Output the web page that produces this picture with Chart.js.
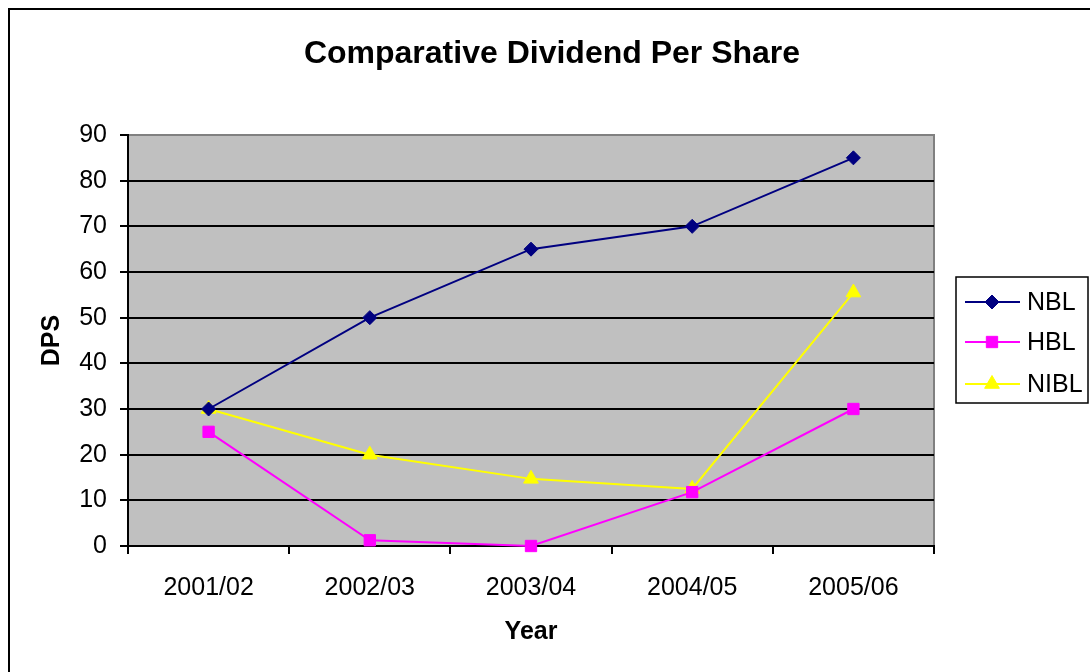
<!DOCTYPE html>
<html>
<head>
<meta charset="utf-8">
<script src="https://cdn.jsdelivr.net/npm/chart.js@4"></script>
<style>
html,body{margin:0;padding:0;background:#fff;}
canvas{display:block;}
</style>
</head>
<body>
<canvas id="c" width="1090" height="672"></canvas>
<script>
const categories = ['2001/02', '2002/03', '2003/04', '2004/05', '2005/06'];
const nbl = [30, 50, 65, 70, 85];
const hbl = [25, 1.25, 0, 11.8, 30];
const nibl = [30, 20, 14.7, 12.5, 55.5];
const seriesNames = ['NBL', 'HBL', 'NIBL'];
const yTicks = [0, 10, 20, 30, 40, 50, 60, 70, 80, 90];
const titleText = 'Comparative Dividend Per Share';
const xTitle = 'Year';
const yTitle = 'DPS';

const FONT = '"Liberation Sans", Arial, sans-serif';

function drawMarker(ctx, style, x, y, r, color) {
  ctx.save();
  ctx.fillStyle = color;
  ctx.strokeStyle = color;
  ctx.lineWidth = 1;
  ctx.beginPath();
  if (style === 'rectRot') {
    ctx.moveTo(x, y - r); ctx.lineTo(x + r, y); ctx.lineTo(x, y + r); ctx.lineTo(x - r, y);
  } else if (style === 'rect') {
    const s = Math.SQRT1_2 * r;
    ctx.rect(x - s, y - s, 2 * s, 2 * s);
  } else if (style === 'triangle') {
    ctx.moveTo(x, y - r);
    ctx.lineTo(x + r * Math.sqrt(3) / 2, y + r / 2);
    ctx.lineTo(x - r * Math.sqrt(3) / 2, y + r / 2);
  }
  ctx.closePath();
  ctx.fill();
  ctx.stroke();
  ctx.restore();
}

const decor = {
  id: 'decor',
  beforeDraw(chart) {
    const ctx = chart.ctx;
    const a = chart.chartArea;
    ctx.save();
    ctx.fillStyle = '#fff';
    ctx.fillRect(0, 0, chart.width, chart.height);
    ctx.strokeStyle = '#000';
    ctx.lineWidth = 2;
    ctx.strokeRect(9, 9, chart.width + 20, chart.height + 20);
    ctx.fillStyle = '#C0C0C0';
    ctx.fillRect(a.left, a.top, a.right - a.left, a.bottom - a.top);
    ctx.strokeStyle = '#808080';
    ctx.lineWidth = 2;
    ctx.strokeRect(a.left, a.top, a.right - a.left, a.bottom - a.top);
    ctx.fillStyle = '#000';
    ctx.font = 'bold 32px ' + FONT;
    ctx.textAlign = 'center';
    ctx.textBaseline = 'middle';
    ctx.fillText(titleText, 552, 54);
    ctx.restore();
  },
  afterDraw(chart) {
    const ctx = chart.ctx;
    ctx.save();
    const bx = 956, by = 277, bw = 132, bh = 126;
    ctx.fillStyle = '#fff';
    ctx.fillRect(bx, by, bw, bh);
    ctx.strokeStyle = '#000';
    ctx.lineWidth = 1.5;
    ctx.strokeRect(bx, by, bw, bh);
    const rows = [302, 342, 384];
    chart.data.datasets.forEach((ds, i) => {
      const y = rows[i];
      ctx.strokeStyle = ds.borderColor;
      ctx.lineWidth = 2;
      ctx.beginPath();
      ctx.moveTo(965, y);
      ctx.lineTo(1020, y);
      ctx.stroke();
      drawMarker(ctx, ds.pointStyle, 992, y, ds.pointRadius, ds.pointBackgroundColor);
      ctx.fillStyle = '#000';
      ctx.font = '25px ' + FONT;
      ctx.textAlign = 'left';
      ctx.textBaseline = 'middle';
      ctx.fillText(ds.label, 1027, y + 1);
    });
    ctx.restore();
  }
};

new Chart(document.getElementById('c'), {
  type: 'line',
  data: {
    labels: categories,
    datasets: [
      { label: seriesNames[0], data: nbl, borderColor: '#000080', backgroundColor: '#000080',
        pointBackgroundColor: '#000080', pointBorderColor: '#000080', pointStyle: 'rectRot', pointRadius: 7,
        borderWidth: 2, pointBorderWidth: 1, tension: 0, clip: false },
      { label: seriesNames[1], data: hbl, borderColor: '#FF00FF', backgroundColor: '#FF00FF',
        pointBackgroundColor: '#FF00FF', pointBorderColor: '#FF00FF', pointStyle: 'rect', pointRadius: 8,
        borderWidth: 2, pointBorderWidth: 1, tension: 0, clip: false },
      { label: seriesNames[2], data: nibl, borderColor: '#FFFF00', backgroundColor: '#FFFF00',
        pointBackgroundColor: '#FFFF00', pointBorderColor: '#FFFF00', pointStyle: 'triangle', pointRadius: 8.5,
        borderWidth: 2, pointBorderWidth: 1, tension: 0, clip: false }
    ]
  },
  options: {
    responsive: false,
    animation: false,
    devicePixelRatio: 1,
    layout: { padding: { left: 0, right: 156, top: 135, bottom: 0 } },
    plugins: {
      legend: { display: false },
      title: { display: false },
      tooltip: { enabled: false }
    },
    scales: {
      x: {
        offset: true,
        afterFit(s) { s.height = 126; },
        grid: { offset: true, drawOnChartArea: false, drawTicks: true, tickLength: 8, color: '#000', lineWidth: 2 },
        border: { display: true, color: '#000', width: 2 },
        ticks: { color: '#000', font: { family: FONT, size: 25 }, padding: 19, maxRotation: 0 },
        title: { display: true, text: xTitle, color: '#000', font: { family: FONT, size: 25, weight: 'bold' }, padding: { top: 0, bottom: 25 } }
      },
      y: {
        min: 0, max: 90,
        afterFit(s) { s.width = 128; },
        afterBuildTicks(s) { s.ticks = yTicks.map(v => ({ value: v })); },
        grid: {
          color: (c) => (c.tick && c.tick.value === 90 ? '#808080' : '#000'),
          tickColor: '#000',
          lineWidth: 2, drawTicks: true, tickLength: 8
        },
        border: { display: true, color: '#000', width: 2 },
        ticks: { color: '#000', font: { family: FONT, size: 25 }, padding: 13 },
        title: { display: true, text: yTitle, color: '#000', font: { family: FONT, size: 25, weight: 'bold' }, padding: { top: 37, bottom: 0 } }
      }
    }
  },
  plugins: [decor]
});
</script>
</body>
</html>
